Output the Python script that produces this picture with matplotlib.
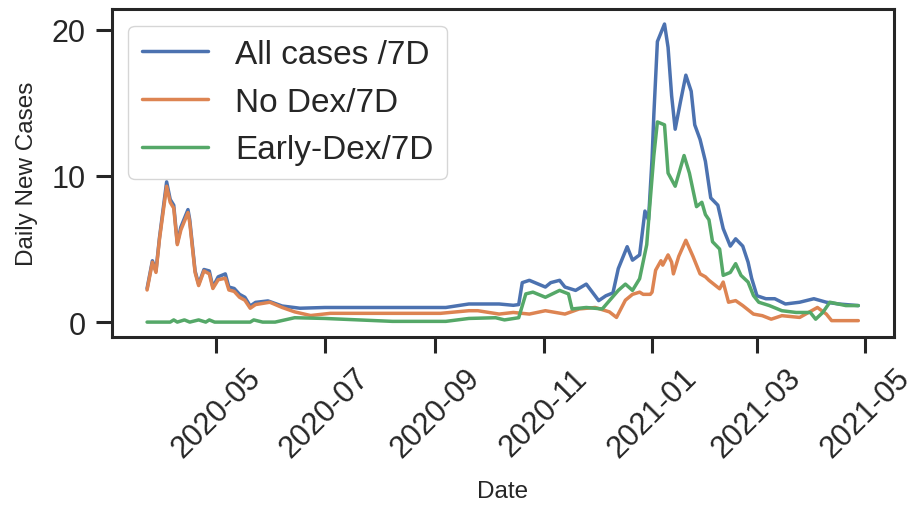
import matplotlib
matplotlib.use("Agg")
import matplotlib.pyplot as plt
import matplotlib.dates as mdates
import pandas as pd
import seaborn as sns

# readings (7-day averages)
all_dates = ['2020-03-23', '2020-03-26', '2020-03-28', '2020-03-30', '2020-04-03', '2020-04-05',
             '2020-04-07', '2020-04-09', '2020-04-11', '2020-04-15', '2020-04-16', '2020-04-19',
             '2020-04-21', '2020-04-24', '2020-04-27', '2020-04-29', '2020-05-02', '2020-05-06',
             '2020-05-08', '2020-05-11', '2020-05-14', '2020-05-17', '2020-05-20', '2020-05-23',
             '2020-05-30', '2020-06-07', '2020-06-17', '2020-07-01', '2020-08-01', '2020-09-07',
             '2020-09-20', '2020-10-07', '2020-10-15', '2020-10-18', '2020-10-20', '2020-10-24',
             '2020-11-02', '2020-11-05', '2020-11-10', '2020-11-13', '2020-11-19', '2020-11-25',
             '2020-12-02', '2020-12-06', '2020-12-10', '2020-12-13', '2020-12-18', '2020-12-21',
             '2020-12-25', '2020-12-28', '2020-12-30', '2021-01-01', '2021-01-02', '2021-01-04',
             '2021-01-08', '2021-01-10', '2021-01-12', '2021-01-14', '2021-01-17', '2021-01-20',
             '2021-01-23', '2021-01-25', '2021-01-28', '2021-01-31', '2021-02-03', '2021-02-07',
             '2021-02-10', '2021-02-14', '2021-02-17', '2021-02-21', '2021-02-24', '2021-02-26',
             '2021-03-01', '2021-03-06', '2021-03-11', '2021-03-17', '2021-03-25', '2021-04-02',
             '2021-04-09', '2021-04-16', '2021-04-27']
all_cases = [2.3, 4.2, 3.5, 5.8, 9.6, 8.4, 8.0, 5.4, 6.5, 7.7, 7.0, 3.5,
             2.6, 3.6, 3.5, 2.4, 3.1, 3.3, 2.4, 2.3, 1.9, 1.7, 1.1, 1.35,
             1.45, 1.1, 0.95, 1.0, 1.0, 1.0, 1.24, 1.24, 1.15, 1.2, 2.7, 2.86,
             2.4, 2.7, 2.86, 2.4, 2.17, 2.6, 1.47, 1.8, 2.0, 3.66, 5.16, 4.24,
             4.6, 7.6, 7.0, 11.2, 14.2, 19.2, 20.4, 18.8, 15.5, 13.2, 15.1, 16.9,
             15.8, 13.5, 12.5, 11.0, 8.5, 8.0, 6.4, 5.2, 5.7, 5.2, 4.1, 3.0,
             1.8, 1.6, 1.6, 1.24, 1.36, 1.6, 1.36, 1.24, 1.13]

nodex_dates = ['2020-03-23', '2020-03-26', '2020-03-28', '2020-03-30', '2020-04-03', '2020-04-05',
               '2020-04-07', '2020-04-09', '2020-04-11', '2020-04-15', '2020-04-16', '2020-04-19',
               '2020-04-21', '2020-04-24', '2020-04-27', '2020-04-29', '2020-05-02', '2020-05-06',
               '2020-05-08', '2020-05-11', '2020-05-14', '2020-05-17', '2020-05-20', '2020-05-23',
               '2020-05-31', '2020-06-07', '2020-06-14', '2020-06-23', '2020-07-04', '2020-09-04',
               '2020-09-20', '2020-09-25', '2020-10-07', '2020-10-15', '2020-10-24', '2020-11-02',
               '2020-11-13', '2020-11-21', '2020-11-30', '2020-12-08', '2020-12-12', '2020-12-17',
               '2020-12-21', '2020-12-25', '2020-12-27', '2020-12-31', '2021-01-01', '2021-01-03',
               '2021-01-06', '2021-01-07', '2021-01-10', '2021-01-12', '2021-01-13', '2021-01-16',
               '2021-01-20', '2021-01-24', '2021-01-28', '2021-01-31', '2021-02-02', '2021-02-08',
               '2021-02-10', '2021-02-13', '2021-02-17', '2021-02-21', '2021-02-27', '2021-03-04',
               '2021-03-09', '2021-03-15', '2021-03-25', '2021-04-04', '2021-04-09', '2021-04-12',
               '2021-04-27']
no_dex = [2.2, 4.1, 3.4, 5.7, 9.3, 8.2, 7.8, 5.3, 6.3, 7.5, 6.8, 3.4,
          2.5, 3.5, 3.3, 2.3, 2.9, 3.0, 2.2, 2.1, 1.7, 1.5, 0.95, 1.2,
          1.36, 1.0, 0.7, 0.45, 0.6, 0.6, 0.78, 0.78, 0.55, 0.66, 0.55, 0.78,
          0.55, 0.9, 1.0, 0.7, 0.32, 1.5, 1.9, 2.05, 1.9, 1.9, 2.05, 3.55,
          4.2, 3.9, 4.6, 4.1, 3.3, 4.5, 5.6, 4.5, 3.3, 3.1, 2.86, 2.28,
          2.74, 1.36, 1.47, 1.13, 0.55, 0.44, 0.2, 0.44, 0.32, 1.0, 0.55, 0.1,
          0.1]

early_dates = ['2020-03-23', '2020-04-05', '2020-04-07', '2020-04-09', '2020-04-13', '2020-04-16',
               '2020-04-21', '2020-04-25', '2020-04-27', '2020-04-30', '2020-05-20', '2020-05-22',
               '2020-05-27', '2020-06-03', '2020-06-14', '2020-07-01', '2020-08-08', '2020-09-07',
               '2020-09-20', '2020-10-05', '2020-10-10', '2020-10-18', '2020-10-22', '2020-10-26',
               '2020-11-02', '2020-11-10', '2020-11-15', '2020-11-17', '2020-11-25', '2020-12-04',
               '2020-12-13', '2020-12-17', '2020-12-21', '2020-12-25', '2020-12-29', '2020-12-31',
               '2021-01-02', '2021-01-04', '2021-01-08', '2021-01-10', '2021-01-14', '2021-01-19',
               '2021-01-22', '2021-01-26', '2021-01-29', '2021-01-31', '2021-02-02', '2021-02-04',
               '2021-02-08', '2021-02-10', '2021-02-14', '2021-02-17', '2021-02-20', '2021-02-24',
               '2021-02-27', '2021-03-02', '2021-03-08', '2021-03-15', '2021-03-23', '2021-03-31',
               '2021-04-03', '2021-04-07', '2021-04-11', '2021-04-20', '2021-04-27']
early_dex = [0.0, 0.0, 0.15, 0.0, 0.15, 0.0, 0.15, 0.0, 0.15, 0.0, 0.0, 0.15,
             0.0, 0.0, 0.3, 0.25, 0.05, 0.05, 0.25, 0.3, 0.15, 0.3, 1.93, 2.05,
             1.7, 2.17, 1.93, 0.9, 1.0, 0.9, 2.17, 2.6, 2.17, 2.97, 5.3, 8.4,
             11.4, 13.7, 13.5, 10.2, 9.3, 11.4, 10.2, 7.9, 8.2, 7.36, 7.0, 5.5,
             5.0, 3.2, 3.4, 4.0, 3.2, 2.74, 1.82, 1.36, 1.13, 0.78, 0.66, 0.66,
             0.2, 0.66, 1.36, 1.13, 1.13]

sns.set_theme(style='ticks')
plt.rcParams['font.family'] = ['Liberation Sans', 'DejaVu Sans']

fig, ax = plt.subplots(figsize=(9.14, 5.06), dpi=100)
fig.subplots_adjust(left=0.122, right=0.978, top=0.980, bottom=0.332)

pal = sns.color_palette('deep')
ax.plot(pd.to_datetime(all_dates), all_cases, color=pal[0], lw=2.5, label='All cases /7D')
ax.plot(pd.to_datetime(nodex_dates), no_dex, color=pal[1], lw=2.5, label='No Dex/7D')
ax.plot(pd.to_datetime(early_dates), early_dex, color=pal[2], lw=2.5, label='Early-Dex/7D')

ax.set_yticks([0, 10, 20])
ax.xaxis.set_major_locator(mdates.MonthLocator(bymonth=[1, 3, 5, 7, 9, 11]))
ax.xaxis.set_major_formatter(mdates.DateFormatter('%Y-%m'))
plt.setp(ax.get_xticklabels(), rotation=45)

ax.tick_params(labelsize=22, length=11.5, width=2.2, color='.15', pad=7)
for s in ax.spines.values():
    s.set_linewidth(2.2)
    s.set_color('.15')

ax.set_xlabel('Date', fontsize=17.5, labelpad=12)
ax.set_ylabel('Daily New Cases', fontsize=17.5, labelpad=10)
ax.legend(loc='upper left', fontsize=24)

fig.savefig('out.png', dpi=100)
